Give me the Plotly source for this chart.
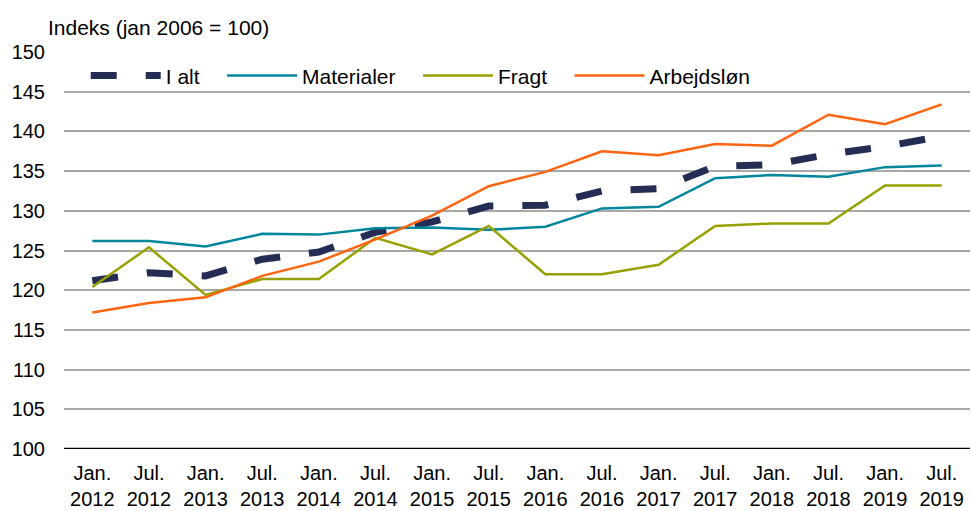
import plotly.graph_objects as go

periods = ["Jan.<br>2012", "Jul.<br>2012", "Jan.<br>2013", "Jul.<br>2013", "Jan.<br>2014", "Jul.<br>2014",
           "Jan.<br>2015", "Jul.<br>2015", "Jan.<br>2016", "Jul.<br>2016", "Jan.<br>2017", "Jul.<br>2017",
           "Jan.<br>2018", "Jul.<br>2018", "Jan.<br>2019", "Jul.<br>2019"]

i_alt = [121.2, 122.2, 121.8, 123.9, 124.8, 127.3, 128.6, 130.6, 130.7, 132.5, 132.8, 135.6, 135.8, 137.1, 138.1, 139.4]
materialer = [126.2, 126.2, 125.5, 127.1, 127.0, 127.8, 127.9, 127.6, 128.0, 130.3, 130.5, 134.1, 134.5, 134.3, 135.5, 135.7]
fragt = [120.4, 125.4, 119.4, 121.4, 121.4, 126.6, 124.5, 128.1, 122.0, 122.0, 123.2, 128.1, 128.4, 128.4, 133.2, 133.2]
arbejdslon = [117.2, 118.4, 119.1, 121.8, 123.6, 126.4, 129.4, 133.1, 134.9, 137.5, 137.0, 138.4, 138.2, 142.1, 140.9, 143.4]

y_ticks = list(range(100, 151, 5))
pad = "\u00a0\u00a0\u00a0"

fig = go.Figure()
fig.add_trace(go.Scatter(x=periods, y=i_alt, name="I alt" + pad, mode="lines",
                         line=dict(color="#262D55", width=7, dash="26px,29px")))
fig.add_trace(go.Scatter(x=periods, y=materialer, name="Materialer" + pad, mode="lines",
                         line=dict(color="#00869C", width=2.5)))
fig.add_trace(go.Scatter(x=periods, y=fragt, name="Fragt" + pad, mode="lines",
                         line=dict(color="#98A000", width=2.5)))
fig.add_trace(go.Scatter(x=periods, y=arbejdslon, name="Arbejdsløn", mode="lines",
                         line=dict(color="#FF6410", width=2.5)))

font = "Liberation Sans, Arial, sans-serif"
fig.update_layout(
    width=971, height=511,
    margin=dict(l=64, r=1, t=52, b=59),
    paper_bgcolor="white", plot_bgcolor="white",
    font=dict(family=font, size=20, color="black"),
    showlegend=True,
    legend=dict(orientation="h", x=0.024, y=0.94, xanchor="left", yanchor="middle",
                bgcolor="rgba(255,255,255,0)", font=dict(size=21), itemwidth=70,
                traceorder="normal"),
    xaxis=dict(type="category", range=[-0.5, 15.5], showgrid=False, showline=False,
               ticks="", tickfont=dict(size=20), zeroline=False, ticklabelstandoff=10),
    yaxis=dict(range=[100, 150], tickvals=y_ticks, showgrid=True, gridcolor="#A8A8A8",
               gridwidth=2, zeroline=False, showline=False, ticks="",
               tickfont=dict(size=20), ticklabelstandoff=18),
    annotations=[dict(text="Indeks (jan 2006 = 100)", xref="paper", yref="paper",
                      x=0, xshift=-18, y=1.0, yshift=25, xanchor="left", yanchor="middle",
                      showarrow=False, font=dict(size=21))],
    shapes=[dict(type="line", xref="paper", yref="y", x0=0, x1=1, y0=100, y1=100,
                 line=dict(color="black", width=2.5))],
)

fig.write_html("out.html", config={"displayModeBar": False},
               post_script="document.body.style.margin='0';")
